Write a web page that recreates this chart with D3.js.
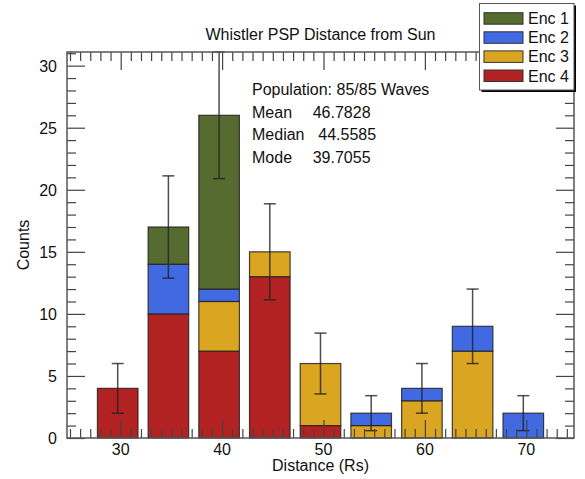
<!DOCTYPE html>
<html>
<head>
<meta charset="utf-8">
<script src="https://cdn.jsdelivr.net/npm/d3@7"></script>
<style>
  body { margin: 0; background: #fff; }
  svg { display: block; }
  text { font-family: "Liberation Sans", Arial, Helvetica, sans-serif; fill: #111; }
</style>
</head>
<body>
<script>
//Size of the page
var w = 585;
var h = 479;

//Data
var binCenters = [29.7055, 34.7055, 39.7055, 44.7055, 49.7055, 54.7055, 59.7055, 64.7055, 69.7055];
var enc1 = [0, 3, 14, 0, 0, 0, 0, 0, 0];
var enc2 = [0, 4, 1, 0, 0, 1, 1, 2, 2];
var enc3 = [0, 0, 4, 2, 5, 1, 3, 7, 0];
var enc4 = [4, 10, 7, 13, 1, 0, 0, 0, 0];
var errors = [2.0, 4.12, 5.1, 3.87, 2.45, 1.41, 2.0, 3.0, 1.41];

var seriesNames = ["Enc 1", "Enc 2", "Enc 3", "Enc 4"];
var seriesColors = ["#556b2f", "#4169e1", "#daa520", "#b22222"];
var xTickLabels = [30, 40, 50, 60, 70];
var yTickLabels = [0, 5, 10, 15, 20, 25, 30];
var statLabels = ["Mean", "Median", "Mode"];
var statValues = ["46.7828", "44.5585", "39.7055"];
var barWidthBins = 4;

//Plot box
var pLeft = 67, pRight = 574, pTop = 52, pBottom = 438;

var xScale = d3.scaleLinear().domain([24.7055, 74.7055]).range([pLeft, pRight]);
var yScale = d3.scaleLinear().domain([0, 31.1]).range([pBottom, pTop]);

var svg = d3.select("body").append("svg").attr("width", w).attr("height", h);

//Build stacked table (bottom to top: Enc 4, Enc 3, Enc 2, Enc 1)
var table = binCenters.map(function (c, i) {
  return { center: c, "Enc 1": enc1[i], "Enc 2": enc2[i], "Enc 3": enc3[i], "Enc 4": enc4[i], err: errors[i] };
});
var keys = ["Enc 4", "Enc 3", "Enc 2", "Enc 1"];
var stack = d3.stack().keys(keys)(table);
var color = d3.scaleOrdinal().domain(seriesNames).range(seriesColors);

var bw = xScale(barWidthBins) - xScale(0);

//Bars
svg
  .selectAll("g.layer")
  .data(stack)
  .enter()
  .append("g")
  .attr("class", "layer")
  .attr("fill", function (d) {
    return color(d.key);
  })
  .selectAll("rect")
  .data(function (d) {
    return d.filter(function (s) {
      return s[1] - s[0] > 0;
    });
  })
  .enter()
  .append("rect")
  .attr("x", function (d) {
    return xScale(d.data.center) - bw / 2;
  })
  .attr("y", function (d) {
    return yScale(d[1]);
  })
  .attr("width", bw)
  .attr("height", function (d) {
    return yScale(d[0]) - yScale(d[1]);
  })
  .attr("stroke", "#222")
  .attr("stroke-opacity", 0.85)
  .attr("stroke-width", 1.2);

//Error bars
var totals = table.map(function (d) {
  return d["Enc 1"] + d["Enc 2"] + d["Enc 3"] + d["Enc 4"];
});
var eb = svg.append("g").attr("stroke", "#222").attr("stroke-opacity", 0.8).attr("stroke-width", 1.5);
table.forEach(function (d, i) {
  var cx = xScale(d.center);
  var lo = yScale(totals[i] - d.err);
  var hi = yScale(totals[i] + d.err);
  eb.append("line").attr("x1", cx).attr("x2", cx).attr("y1", lo).attr("y2", hi);
  eb.append("line").attr("x1", cx - 6).attr("x2", cx + 6).attr("y1", lo).attr("y2", lo);
  eb.append("line").attr("x1", cx - 6).attr("x2", cx + 6).attr("y1", hi).attr("y2", hi);
});

//Axes (drawn on top of bars)
var xMinor = d3.range(25, 75, 1).filter(function (v) {
  return xTickLabels.indexOf(v) < 0;
});
var yMinor = d3.range(1, 32, 1).filter(function (v) {
  return yTickLabels.indexOf(v) < 0;
});

function drawAxis(axis, tx, ty) {
  var g = svg.append("g").attr("transform", "translate(" + tx + "," + ty + ")").call(axis);
  g.select(".domain").remove();
  g.selectAll("line").attr("stroke", "#444").attr("stroke-width", 1.2);
  g.selectAll("text").remove();
  return g;
}

drawAxis(d3.axisTop(xScale).tickValues(xMinor).tickSize(9), 0, pBottom);
drawAxis(d3.axisTop(xScale).tickValues(xTickLabels).tickSize(18), 0, pBottom);
drawAxis(d3.axisBottom(xScale).tickValues(xMinor).tickSize(9), 0, pTop);
drawAxis(d3.axisBottom(xScale).tickValues(xTickLabels).tickSize(18), 0, pTop);
drawAxis(d3.axisRight(yScale).tickValues(yMinor).tickSize(9), pLeft, 0);
drawAxis(d3.axisRight(yScale).tickValues(yTickLabels).tickSize(18), pLeft, 0);
drawAxis(d3.axisLeft(yScale).tickValues(yMinor).tickSize(9), pRight, 0);
drawAxis(d3.axisLeft(yScale).tickValues(yTickLabels).tickSize(18), pRight, 0);

//Tick labels
svg
  .selectAll("text.xl")
  .data(xTickLabels)
  .enter()
  .append("text")
  .attr("class", "xl")
  .attr("x", function (d) {
    return xScale(d);
  })
  .attr("y", pBottom + 17)
  .attr("text-anchor", "middle")
  .attr("font-size", "16px")
  .text(function (d) {
    return d;
  });

svg
  .selectAll("text.yl")
  .data(yTickLabels)
  .enter()
  .append("text")
  .attr("class", "yl")
  .attr("x", pLeft - 10)
  .attr("y", function (d) {
    return yScale(d) + 6;
  })
  .attr("text-anchor", "end")
  .attr("font-size", "16px")
  .text(function (d) {
    return d;
  });

//Frame
svg
  .append("rect")
  .attr("x", pLeft)
  .attr("y", pTop)
  .attr("width", pRight - pLeft)
  .attr("height", pBottom - pTop)
  .attr("fill", "none")
  .attr("stroke", "#555")
  .attr("stroke-width", 1.5);

//Titles
svg
  .append("text")
  .attr("x", (pLeft + pRight) / 2)
  .attr("y", 40)
  .attr("text-anchor", "middle")
  .attr("font-size", "16px")
  .text("Whistler PSP Distance from Sun");

svg
  .append("text")
  .attr("x", (pLeft + pRight) / 2)
  .attr("y", 471)
  .attr("text-anchor", "middle")
  .attr("font-size", "16px")
  .text("Distance (Rs)");

svg
  .append("text")
  .attr("transform", "translate(29," + (pTop + pBottom) / 2 + ") rotate(-90)")
  .attr("text-anchor", "middle")
  .attr("font-size", "16px")
  .text("Counts");

//Stats text
svg
  .append("text")
  .attr("x", 252)
  .attr("y", 95)
  .attr("font-size", "16px")
  .text("Population: 85/85 Waves");

var statGaps = [20.7, 13.8, 20.7];
statLabels.forEach(function (s, i) {
  var t = svg
    .append("text")
    .attr("x", 252)
    .attr("y", 117.5 + i * 22.5)
    .attr("font-size", "16px");
  t.append("tspan").text(s);
  t.append("tspan").attr("dx", statGaps[i]).text(statValues[i]);
});

//Legend
var lg = svg.append("g");
lg.append("rect").attr("x", 481.5).attr("y", 5.5).attr("width", 94.5).attr("height", 86.5).attr("fill", "#000");
lg.append("rect")
  .attr("x", 479.5)
  .attr("y", 3.5)
  .attr("width", 94.5)
  .attr("height", 86.5)
  .attr("fill", "#fff")
  .attr("stroke", "#555")
  .attr("stroke-width", 1);

seriesNames.forEach(function (name, i) {
  var y0 = 12.7 + i * 19.1;
  lg.append("rect")
    .attr("x", 484)
    .attr("y", y0)
    .attr("width", 39)
    .attr("height", 11.5)
    .attr("fill", color(name))
    .attr("stroke", "#333")
    .attr("stroke-width", 1);
  lg.append("text")
    .attr("x", 528)
    .attr("y", y0 + 11.5)
    .attr("font-size", "16px")
    .text(name);
});
</script>
</body>
</html>
